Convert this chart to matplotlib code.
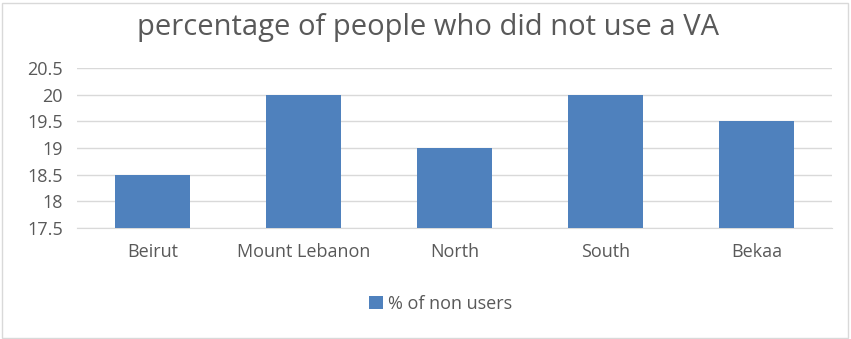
import matplotlib.pyplot as plt
from matplotlib.patches import Rectangle

regions = ["Beirut", "Mount Lebanon", "North", "South", "Bekaa"]
non_users = [18.5, 20, 19, 20, 19.5]
y_ticks = [17.5, 18, 18.5, 19, 19.5, 20, 20.5]
y_tick_labels = ["17.5", "18", "18.5", "19", "19.5", "20", "20.5"]

plt.rcParams['font.family'] = ['Open Sans', 'DejaVu Sans']
text_color = "#595959"
bar_color = "#4f81bd"

W, H = 851, 339
fig = plt.figure(figsize=(W / 100, H / 100), dpi=100)
fig.patch.set_facecolor("white")

# light chart-area frame
fig.add_artist(Rectangle((2 / W, 1 / H), (W - 5) / W, (H - 4) / H,
                         transform=fig.transFigure, fill=False,
                         edgecolor="#d9d9d9", linewidth=1))

ax = fig.add_axes([77 / W, 1 - 228 / H, (832 - 77) / W, (228 - 68) / H])
x = range(len(regions))
bars = ax.bar(x, [v - 17.5 for v in non_users], bottom=17.5, width=0.5,
              color=bar_color, label="% of non users", zorder=3)

ax.set_xlim(-0.5, len(regions) - 0.5)
ax.set_ylim(17.5, 20.5)
ax.set_yticks(y_ticks)
ax.set_yticklabels(y_tick_labels)
ax.set_xticks(list(x))
ax.set_xticklabels(regions)

ax.grid(axis="y", color="#d9d9d9", linewidth=1, zorder=0)
for side in ["top", "right", "left"]:
    ax.spines[side].set_visible(False)
ax.spines["bottom"].set_color("#d9d9d9")
ax.tick_params(axis="both", length=0, colors=text_color, labelsize=13)
ax.tick_params(axis="x", pad=11)
ax.tick_params(axis="y", pad=10)

fig.text(428 / W, 1 - 27 / H, "percentage of people who did not use a VA",
         ha="center", va="center", fontsize=21, color=text_color)

fig.legend(handles=[bars], labels=["% of non users"], loc="center",
           bbox_to_anchor=(441 / W, 1 - 304 / H), frameon=False,
           fontsize=13, labelcolor=text_color, handlelength=0.75,
           handleheight=0.75, handletextpad=0.3)

fig.savefig("out.png", dpi=100)
